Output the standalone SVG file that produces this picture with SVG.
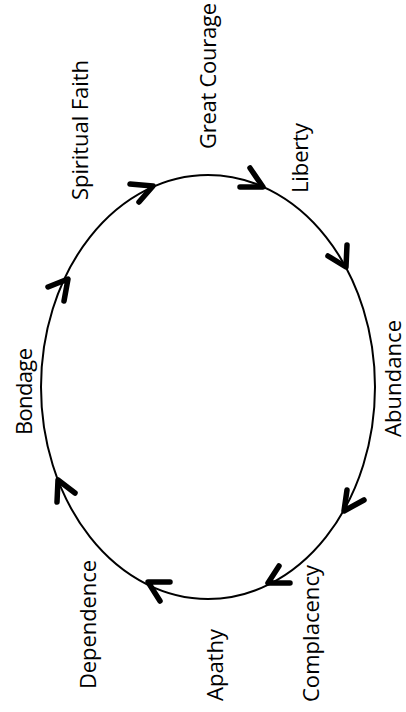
<svg xmlns="http://www.w3.org/2000/svg" width="406" height="712" viewBox="0 0 406 712">
<style>
text{font-family:"Open Sans","Noto Sans","DejaVu Sans",sans-serif;font-size:22px;fill:#000}
.ring{fill:none;stroke:#000;stroke-width:2}
.head{fill:none;stroke:#000;stroke-width:5.5;stroke-linecap:round;stroke-linejoin:round}
</style>
<rect width="406" height="712" fill="#fff"/>
<g id="connectors">
<ellipse class="ring" cx="208" cy="387" rx="167" ry="212"/>
<path class="head" d="M48,287 L68,279 L64,301"/>
<path class="head" d="M130,184 L153,186 L139,202"/>
<path class="head" d="M250,168 L263,187 L240,187"/>
<path class="head" d="M347,245 L346,267 L328,256"/>
<path class="head" d="M347,490 L344,511 L364,500"/>
<path class="head" d="M279,566 L268,583 L290,583"/>
<path class="head" d="M170,582 L148,582 L160,601"/>
<path class="head" d="M75,493 L58,480 L57,502"/>
</g>
<g id="node-spiritual-faith"><text transform="translate(88,200) rotate(-90)" textLength="140">Spiritual Faith</text></g>
<g id="node-great-courage"><text transform="translate(216,149) rotate(-90)" textLength="146">Great Courage</text></g>
<g id="node-liberty"><text transform="translate(308,193) rotate(-90)" textLength="70">Liberty</text></g>
<g id="node-abundance"><text transform="translate(401,437) rotate(-90)" textLength="117">Abundance</text></g>
<g id="node-complacency"><text transform="translate(319,702) rotate(-90)" textLength="137">Complacency</text></g>
<g id="node-apathy"><text transform="translate(223,701) rotate(-90)" textLength="72">Apathy</text></g>
<g id="node-dependence"><text transform="translate(96,689) rotate(-90)" textLength="129">Dependence</text></g>
<g id="node-bondage"><text transform="translate(32,435) rotate(-90)" textLength="87">Bondage</text></g>
</svg>
